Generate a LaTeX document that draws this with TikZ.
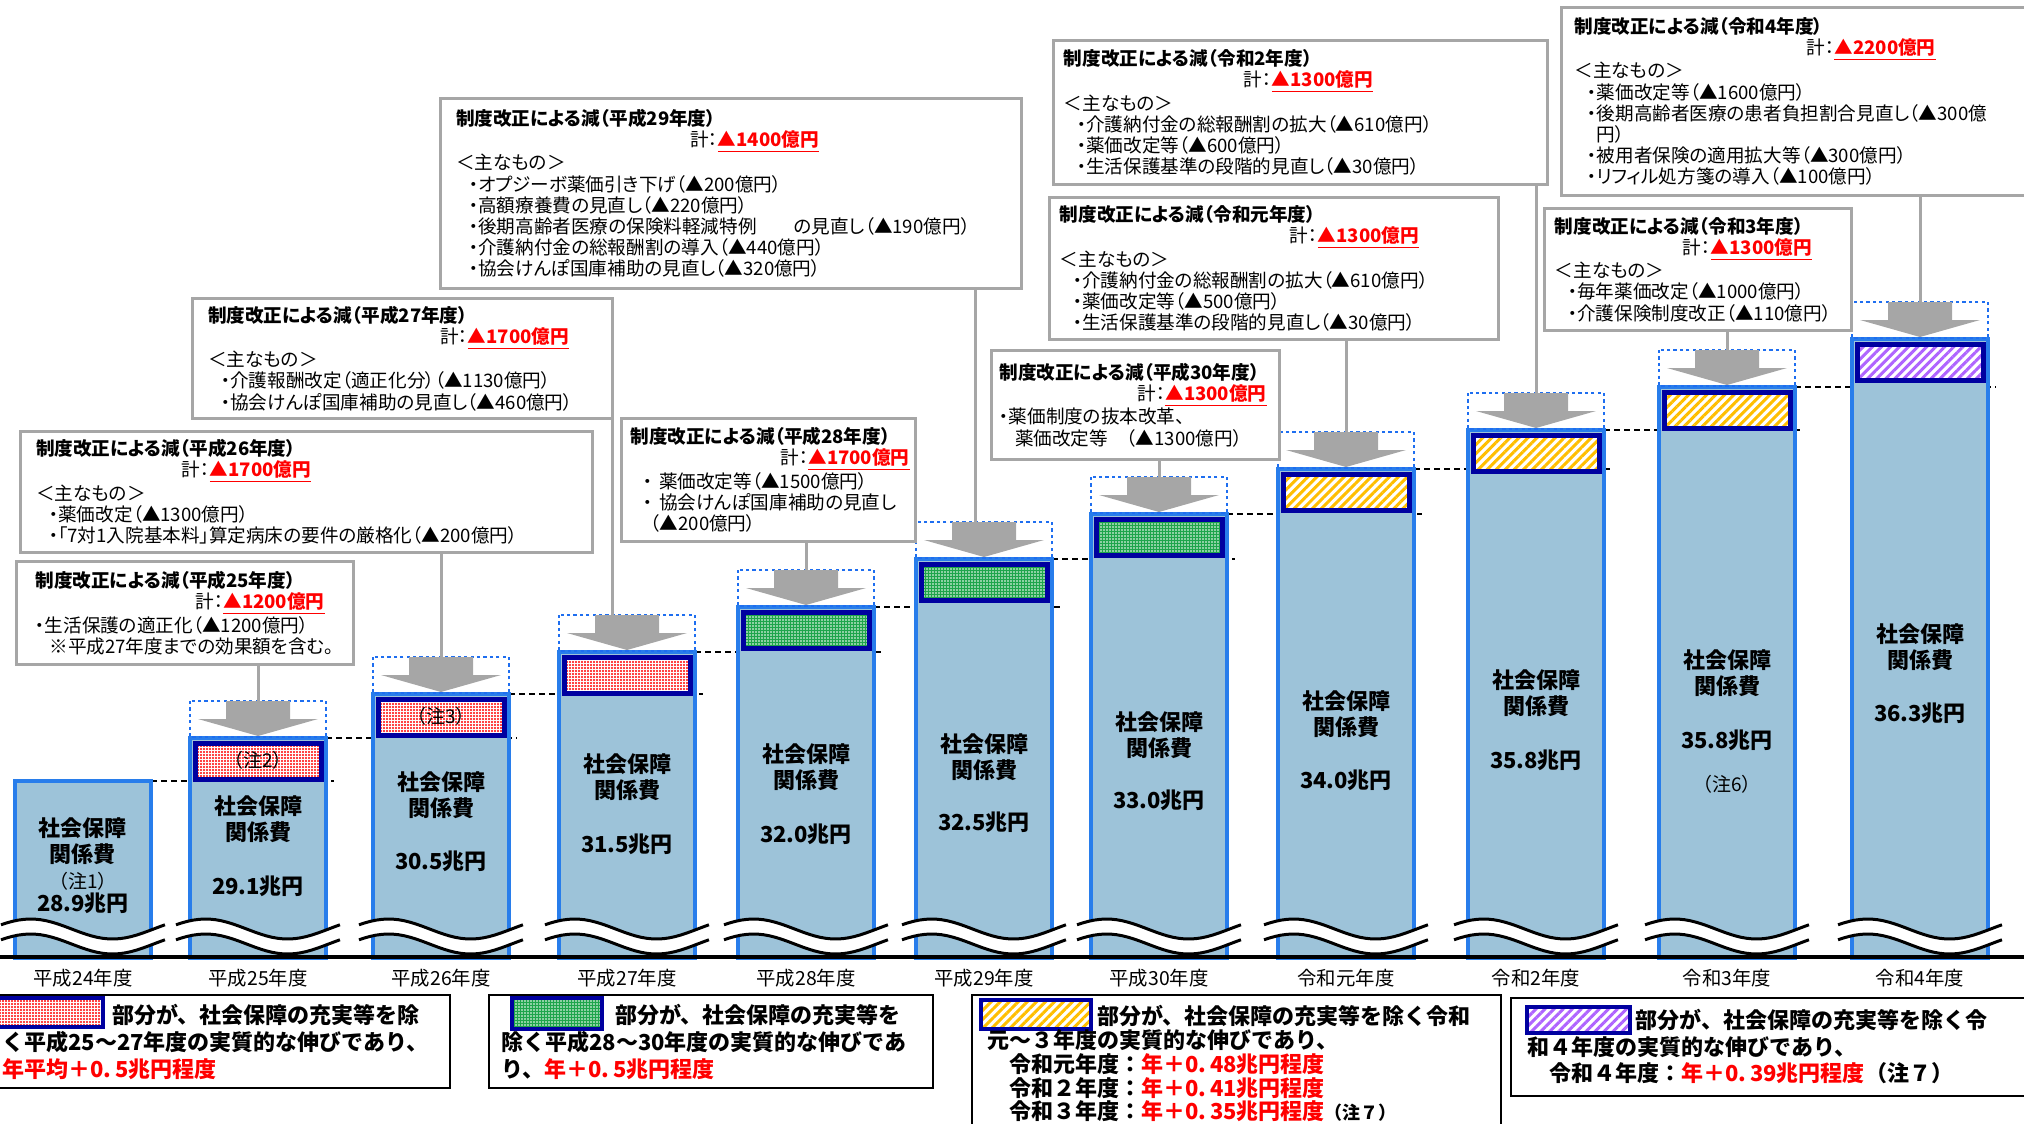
\documentclass[tikz,border=0pt]{standalone}
\usepackage{fontspec}
\setmainfont{Noto Sans CJK JP}[RawFeature=+palt]
\newfontfamily\legfont{Noto Sans CJK JP}
\usetikzlibrary{patterns.meta}

\definecolor{barfill}{RGB}{157,195,217}
\definecolor{barline}{RGB}{40,125,235}
\definecolor{dotblue}{RGB}{30,110,240}
\definecolor{navy}{RGB}{0,0,160}
\definecolor{boxgray}{RGB}{166,166,166}
\definecolor{gold}{RGB}{255,190,0}
\definecolor{lilac}{RGB}{175,100,255}
\definecolor{chkgreen}{RGB}{30,165,75}

\newcommand{\kei}[1]{計：\textcolor{red}{\underline{\textbf{▲#1億円}}}}
\newcommand{\ind}{\hspace*{6.5pt}}

\tikzset{
  callout/.style={draw=boxgray, line width=1.5pt, fill=white, align=left, anchor=north west,
    inner ysep=2pt, font=\fontsize{9.3}{10.6}\selectfont},
  conn/.style={draw=boxgray, line width=1.5pt},
  barbox/.style={fill=barfill, draw=barline, line width=2pt},
  barlabel/.style={align=center, inner sep=0pt, font=\bfseries\fontsize{11}{13}\selectfont},
  yearlabel/.style={inner sep=0pt, font=\fontsize{9.7}{11}\selectfont},
  notelabel/.style={inner sep=0pt, font=\fontsize{9.5}{10}\selectfont},
  dotbox/.style={draw=dotblue, line width=1.4pt, dash pattern=on 1.6pt off 1.6pt},
  patchbox/.style={draw=navy, line width=2.5pt},
  pdot/.style={preaction={fill=white}, pattern={Dots[radius=0.6pt,distance=1.5pt]}, pattern color=red},
  pgrn/.style={preaction={fill=chkgreen}, pattern={Dots[radius=0.4pt,distance=1.5pt]}, pattern color=white},
  pyel/.style={preaction={fill=white}, pattern={Lines[angle=45,distance=3.2pt,line width=1.5pt]}, pattern color=gold},
  ppur/.style={preaction={fill=white}, pattern={Lines[angle=45,distance=3.2pt,line width=1.5pt]}, pattern color=lilac},
  wave/.style={draw=black, line width=1.5pt},
  legbox/.style={draw=black, line width=1pt, anchor=north west},
  legtext/.style={anchor=north west, align=left, inner sep=0pt, font=\legfont\bfseries\fontsize{11}{13.5}\selectfont}
}

\begin{document}
\begin{tikzpicture}[x=0.5pt,y=-0.5pt]
\useasboundingbox (0,0) rectangle (2024,1124);

% level lines
\foreach \xa/\xb/\y in {151/334/781, 326/517/738, 509/703/694, 695/882/652, 874/1060/607,
  1052/1235/559, 1227/1422/514, 1414/1612/469, 1604/1803/430, 1795/1996/387}
  \draw[line width=1pt, dash pattern=on 3pt off 2pt] (\xa,\y) -- (\xb,\y);

% bars
\foreach \i/\xl/\yt/\yl/\yv/\val/\yr in {1/15/781/841/903/28.9/平成24年度, 2/190/738/819/886/29.1/平成25年度,
  3/373/694/795/861/30.5/平成26年度, 4/559/652/777/844/31.5/平成27年度, 5/738/607/767/834/32.0/平成28年度,
  6/916/559/757/822/32.5/平成29年度, 7/1091/514/735/800/33.0/平成30年度, 8/1278/469/714/780/34.0/令和元年度,
  9/1468/430/693/760/35.8/令和2年度, 10/1659/387/673/740/35.8/令和3年度, 11/1852/339/647/713/36.3/令和4年度}{
  \filldraw[barbox] (\xl,\yt) rectangle ({\xl+136},958);
  \node[barlabel] (lab\i) at ({\xl+68},\yl) {社会保障\\関係費};
  \node[barlabel] (val\i) at ({\xl+68},\yv) {\val 兆円};
  \node[yearlabel] (yr\i) at ({\xl+68},978) {\yr};
}
\node[notelabel] (n1) at (83,881) {（注1）};
\node[notelabel] (n6) at (1727,784) {（注6）};

% increments and arrows
\foreach \i/\xl/\yt/\pat in {2/190/738/pdot, 3/373/694/pdot, 4/559/652/pdot, 5/738/607/pgrn, 6/916/559/pgrn,
  7/1091/514/pgrn, 8/1278/469/pyel, 9/1468/430/pyel, 10/1659/387/pyel, 11/1852/339/ppur}{
  \draw[\pat, patchbox] ({\xl+5},{\yt+5}) rectangle ({\xl+131},{\yt+41});
  \draw[dotbox] (\xl,{\yt-37}) rectangle ({\xl+136},{\yt-1});
  \coordinate (d\i) at ({\xl+68},{\yt-37});
  \fill[boxgray] ({\xl+36},{\yt-37}) -- ({\xl+100},{\yt-37}) -- ({\xl+100},{\yt-19}) -- ({\xl+128},{\yt-19})
    -- ({\xl+68},{\yt-2}) -- ({\xl+8},{\yt-19}) -- ({\xl+36},{\yt-19}) -- cycle;
}
\node[notelabel] (n2) at (258,760) {（注2）};
\node[notelabel] (n3) at (441,716) {（注3）};

% breaks
\foreach \xl in {15,190,373,559,738,916,1091,1278,1468,1659,1852}{
  \fill[white] plot[domain=0:1,samples=30] ({\xl-14+164*\x},{929-10*sin(360*\x+25)})
    -- plot[domain=1:0,samples=30] ({\xl-14+164*\x},{944-10*sin(360*\x+25)}) -- cycle;
  \draw[wave] plot[domain=0:1,samples=30] ({\xl-14+164*\x},{929-10*sin(360*\x+25)});
  \draw[wave] plot[domain=0:1,samples=30] ({\xl-14+164*\x},{944-10*sin(360*\x+25)});
}
\draw[line width=2pt] (0,957) -- (2024,957);

% callouts
\node[callout, inner xsep=9.5pt, text width=149.5pt, minimum height=51.5pt] (b25) at (15,560)
  {\textbf{制度改正による減（平成25年度）}\\\hspace*{80pt}\kei{1200}\\・生活保護の適正化（▲1200億円）\\\hspace*{7pt}※平成27年度までの効果額を含む。};
\node[callout, inner xsep=7.75pt, text width=270.5pt, minimum height=60.5pt] (b26) at (19,430)
  {\textbf{制度改正による減（平成26年度）}\\\hspace*{73pt}\kei{1700}\\＜主なもの＞\\\ind・薬価改定（▲1300億円）\\\ind・「7対1入院基本料」算定病床の要件の厳格化（▲200億円）};
\node[callout, inner xsep=7.75pt, text width=194.5pt, minimum height=60pt] (b27) at (191,297)
  {\textbf{制度改正による減（平成27年度）}\\\hspace*{116pt}\kei{1700}\\＜主なもの＞\\\ind・介護報酬改定（適正化分）（▲1130億円）\\\ind・協会けんぽ国庫補助の見直し（▲460億円）};
\node[callout, inner xsep=4.5pt, text width=138pt, minimum height=61.5pt] (b28) at (620,417)
  {\textbf{制度改正による減（平成28年度）}\\\hspace*{75pt}\kei{1700}\\\ind・ 薬価改定等（▲1500億円）\\\ind・ 協会けんぽ国庫補助の見直し\\\hspace*{10pt}（▲200億円）};
\node[callout, inner xsep=7.75pt, text width=275pt, minimum height=95pt] (b29) at (439,97)
  {\textbf{制度改正による減（平成29年度）}\\\hspace*{117pt}\kei{1400}\\＜主なもの＞\\\ind・オプジーボ薬価引き下げ（▲200億円）\\\ind・高額療養費の見直し（▲220億円）\\\ind・後期高齢者医療の保険料軽減特例　　の見直し（▲190億円）\\\ind・介護納付金の総報酬割の導入（▲440億円）\\\ind・協会けんぽ国庫補助の見直し（▲320億円）};
\node[callout, inner xsep=4pt, text width=136pt, minimum height=54.5pt] (b30) at (990,349)
  {\textbf{制度改正による減（平成30年度）}\\\hspace*{69pt}\kei{1300}\\・薬価制度の抜本改革、\\\hspace*{7.75pt}薬価改定等　（▲1300億円）};
\node[callout, inner xsep=5.2pt, text width=214pt, minimum height=71pt] (r1) at (1048,196)
  {\textbf{制度改正による減（令和元年度）}\\\hspace*{115pt}\kei{1300}\\＜主なもの＞\\\ind・介護納付金の総報酬割の拡大（▲610億円）\\\ind・薬価改定等（▲500億円）\\\ind・生活保護基準の段階的見直し（▲30億円）};
\node[callout, inner xsep=5.2pt, text width=236.6pt, minimum height=72pt] (r2) at (1052,39)
  {\textbf{制度改正による減（令和2年度）}\\\hspace*{90pt}\kei{1300}\\＜主なもの＞\\\ind・介護納付金の総報酬割の拡大（▲610億円）\\\ind・薬価改定等（▲600億円）\\\ind・生活保護基準の段階的見直し（▲30億円）};
\node[callout, inner xsep=5.2pt, text width=143pt, minimum height=61pt] (r3) at (1543,207)
  {\textbf{制度改正による減（令和3年度）}\\\hspace*{64pt}\kei{1300}\\＜主なもの＞\\\ind・毎年薬価改定（▲1000億円）\\\ind・介護保険制度改正（▲110億円）};
\node[callout, inner xsep=6.5pt, text width=222pt, minimum height=94pt] (r4) at (1560,6)
  {\textbf{制度改正による減（令和4年度）}\\\hspace*{116pt}\kei{2200}\\＜主なもの＞\\\ind・薬価改定等（▲1600億円）\\\ind・後期高齢者医療の患者負担割合見直し（▲300億\\\hspace*{11pt}円）\\\ind・被用者保険の適用拡大等（▲300億円）\\\ind・リフィル処方箋の導入（▲100億円）};

% connectors
\draw[conn] (d2) -- (d2 |- b25.south);
\draw[conn] (d3) -- (d3 |- b26.south);
\draw[conn] ([xshift=-1pt]b27.south east) -- ([xshift=-1pt]b27.south east |- d4);
\draw[conn] (d5) -- (d5 |- b28.south);
\draw[conn] ([xshift=-4.5pt]d6) -- ([xshift=-4.5pt]d6 |- b29.south);
\draw[conn] (d7) -- (d7 |- b30.south);
\draw[conn] (d8) -- (d8 |- r1.south);
\draw[conn] (d9) -- (d9 |- r2.south);
\draw[conn] (d10) -- (d10 |- r3.south);
\draw[conn] (d11) -- (d11 |- r4.south);

% legend
\node[legbox, minimum width=234.5pt, minimum height=46.5pt] (l1) at (-20,994) {};
\draw[pdot, patchbox, line width=1.8pt] (-6,998) rectangle (103,1027);
\node[legtext] (t1) at (2,1004) {\hspace*{55pt}部分が、社会保障の充実等を除\\く平成25～27年度の実質的な伸びであり、\\\textcolor{red}{年平均＋0.\,5兆円程度}};

\node[legbox, minimum width=222pt, minimum height=46.5pt] (l2) at (488,994) {};
\draw[pgrn, patchbox, line width=1.8pt] (512,998) rectangle (602,1029);
\node[legtext] (t2) at (501,1004) {\hspace*{57pt}部分が、社会保障の充実等を\\除く平成28～30年度の実質的な伸びであ\\り、\textcolor{red}{年＋0.\,5兆円程度}};

\node[legbox, minimum width=264.5pt, minimum height=75pt] (l3) at (971,994) {};
\draw[pyel, patchbox, line width=1.8pt] (981,1000) rectangle (1091,1029);
\node[legtext, font=\legfont\bfseries\fontsize{11}{11.9}\selectfont] (t3) at (987,1005)
  {\hspace*{55pt}部分が、社会保障の充実等を除く令和\\元～３年度の実質的な伸びであり、\\\hspace*{11pt}令和元年度：\textcolor{red}{年＋0.\,48兆円程度}\\\hspace*{11pt}令和２年度：\textcolor{red}{年＋0.\,41兆円程度}\\\hspace*{11pt}令和３年度：\textcolor{red}{年＋0.\,35兆円程度}{\fontsize{9}{9}\selectfont（注７）}};

\node[legbox, minimum width=270pt, minimum height=49pt] (l4) at (1510,997) {};
\draw[ppur, patchbox, line width=1.8pt] (1527,1007) rectangle (1630,1033);
\node[legtext, font=\legfont\bfseries\fontsize{11}{13.2}\selectfont] (t4) at (1527,1009)
  {\hspace*{54pt}部分が、社会保障の充実等を除く令\\和４年度の実質的な伸びであり、\\\hspace*{11pt}令和４年度：\textcolor{red}{年＋0.\,39兆円程度}（注７）};
\end{tikzpicture}
\end{document}
